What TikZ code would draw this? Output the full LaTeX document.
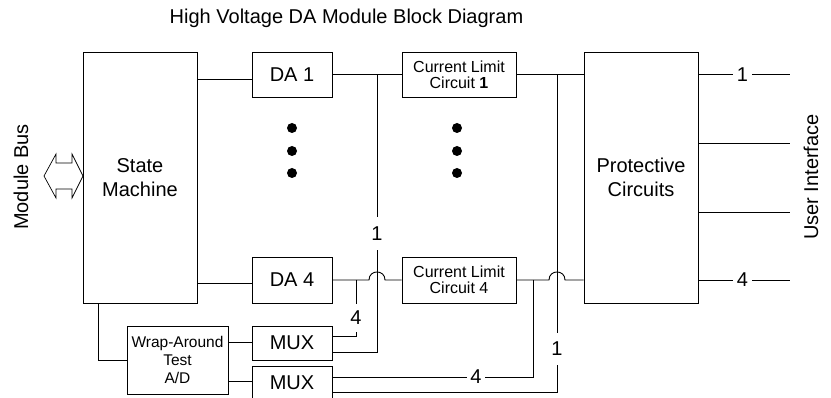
\documentclass[tikz,border=0pt]{standalone}
\usepackage{fontspec}
\setmainfont{Liberation Sans}
\begin{document}
\begin{tikzpicture}[x=1pt,y=-1pt,line width=0.9pt,
  blk/.style={draw,inner sep=0pt,align=center,font=\fontsize{20}{23.5}\selectfont},
  small/.style={draw,inner sep=0pt,align=center,font=\fontsize{16}{16}\selectfont},
  lbl/.style={inner sep=0pt,font=\fontsize{20}{23}\selectfont},
  txt/.style={inner sep=0pt,font=\fontsize{20}{23}\selectfont}]
\clip (0,0) rectangle (831,398);
% title
\node[txt,anchor=base] (title) at (346.5,24) {High Voltage DA Module Block Diagram};
% blocks
\node[blk,minimum width=114pt,minimum height=251pt] (SM) at (140,177.5) {State\\Machine};
\node[blk,minimum width=80pt,minimum height=45pt] (DA1) at (292,74.5) {DA 1};
\node[blk,minimum width=80pt,minimum height=46pt] (DA4) at (292,280) {DA 4};
\node[small,minimum width=114pt,minimum height=45pt] (CL1) at (459,74.5) {Current Limit\\Circuit \textbf{1}};
\node[small,minimum width=114pt,minimum height=46pt] (CL4) at (459,280) {Current Limit\\Circuit 4};
\node[blk,minimum width=114pt,minimum height=251pt] (PC) at (641,177.5) {Protective\\Circuits};
\node[draw,inner sep=0pt,align=center,font=\fontsize{15.5}{18}\selectfont,minimum width=101pt,minimum height=68pt] (WA) at (177.5,360) {Wrap-Around\\Test\\A/D};
\node[blk,minimum width=80pt,minimum height=34pt] (MUX1) at (292,343) {MUX};
\node[blk,minimum width=80pt,minimum height=34pt,yshift=0pt] (MUX2) at (292,383) {MUX};
% side texts
\node[txt,rotate=90] (mb) at (21,177) {Module Bus};
\node[txt,rotate=90] (ui) at (811,177) {User Interface};
% bus arrow
\draw[line width=0.7pt] (44,176) -- (56,154) -- (56,163) -- (72,163) -- (72,154) -- (83,176)
  -- (72,198) -- (72,189) -- (56,189) -- (56,198) -- cycle;
% dots
\foreach \yy in {128,151,173} {
  \fill (292,\yy) circle[radius=5pt];
  \fill (457,\yy) circle[radius=5pt];
}
% helper coordinates
\coordinate (y79) at (0,79);
\coordinate (y283) at (0,283);
\coordinate (y342) at (0,342);
\coordinate (y381) at (0,381);
\coordinate (y352) at (0,352);
\coordinate (y336) at (0,336);
\coordinate (y377) at (0,377);
\coordinate (y392) at (0,392);
% state machine to DAs
\draw (SM.east |- y79) -- (DA1.west |- y79);
\draw (SM.east |- y283) -- (DA4.west |- y283);
% DA to current limit
\draw (DA1.east) -- (CL1.west);
\draw (DA4.east) -- (369,280) .. controls (369,269.3) and (385,269.3) .. (385,280) -- (CL4.west);
% current limit to protective
\draw (CL1.east) -- (PC.west |- CL1.east);
\draw (CL4.east) -- (549,280) .. controls (549,269.3) and (565,269.3) .. (565,280) -- (PC.west |- CL4.east);
% feedback 1 from DA1 line
\coordinate (j1) at (377,74.5);
\node[lbl,minimum height=33pt] (L1a) at (377,233.5) {1};
\draw (j1) -- (L1a.north);
\draw (L1a.south) -- (377,352) -- (MUX1.east |- y352);
% feedback 4 from DA4 line
\coordinate (j4) at (356,280);
\node[lbl,minimum height=28pt] (L4a) at (356,318) {4};
\draw (j4) -- (L4a.north);
\draw (L4a.south) -- (356,336) -- (MUX1.east |- y336);
% feedback from CL4 line
\coordinate (k4) at (533,280);
\node[lbl,minimum width=18pt] (L4b) at (476,377) {4};
\draw (k4) -- (533,377) -- (L4b.east);
\draw (L4b.west) -- (MUX2.east |- y377);
% feedback from CL1 line
\coordinate (k1) at (557,74.5);
\node[lbl,minimum height=32pt] (L1b) at (557,349) {1};
\draw (k1) -- (L1b.north);
\draw (L1b.south) -- (557,392) -- (MUX2.east |- y392);
% state machine to wrap-around
\draw ([xshift=-42pt]SM.south) |- (WA.west);
\draw (WA.east |- y342) -- (MUX1.west |- y342);
\draw (WA.east |- y381) -- (MUX2.west |- y381);
% outputs
\coordinate (o1) at (790,74.5);
\coordinate (o2) at (790,143);
\coordinate (o3) at (790,212);
\coordinate (o4) at (790,280);
\node[lbl,minimum width=19pt] (P1) at (742.5,74.5) {1};
\node[lbl,minimum width=19pt] (P4) at (742.5,280) {4};
\draw (PC.east |- o1) -- (P1.west);
\draw (P1.east) -- (o1);
\draw (PC.east |- o2) -- (o2);
\draw (PC.east |- o3) -- (o3);
\draw (PC.east |- o4) -- (P4.west);
\draw (P4.east) -- (o4);
\end{tikzpicture}
\end{document}
